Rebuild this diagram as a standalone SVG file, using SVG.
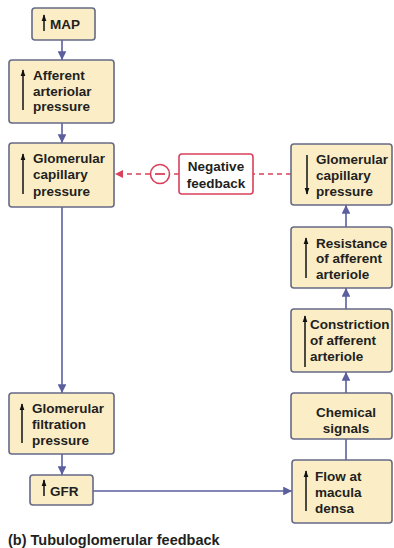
<svg xmlns="http://www.w3.org/2000/svg" width="394" height="548" viewBox="0 0 394 548">
<style>
.box{fill:#fbeec7;stroke:#656a86;stroke-width:1.6}
.t{font-family:"Liberation Sans",Arial,sans-serif;font-weight:bold;font-size:13.5px;fill:#231f20}
.c{text-anchor:middle}
.conn{stroke:#5b5f9e;stroke-width:1.6;fill:none}
.dash{stroke:#d9405a;stroke-width:1.5;stroke-dasharray:5,4;fill:none}
.ia{stroke:#111;stroke-width:1.5;fill:none}
</style>
<defs>
<marker id="ah" viewBox="0 0 10 10" refX="10" refY="5" markerWidth="5.5" markerHeight="5.5" orient="auto" markerUnits="strokeWidth"><path d="M0,0 L10,5 L0,10 z" fill="#5b5f9e"/></marker>
<marker id="rh" viewBox="0 0 10 10" refX="10" refY="5" markerWidth="5.5" markerHeight="5.5" orient="auto" markerUnits="strokeWidth"><path d="M0,0 L10,5 L0,10 z" fill="#d9405a"/></marker>
<marker id="bh" viewBox="0 0 10 10" refX="9" refY="5" markerWidth="4.5" markerHeight="4.5" orient="auto" markerUnits="strokeWidth"><path d="M0,1.5 L10,5 L0,8.5 z" fill="#111"/></marker>
</defs>

<g id="connectors">
<line class="conn" x1="62" y1="40" x2="62" y2="60" marker-end="url(#ah)"/>
<line class="conn" x1="62" y1="123" x2="62" y2="143" marker-end="url(#ah)"/>
<line class="conn" x1="62" y1="207" x2="62" y2="393" marker-end="url(#ah)"/>
<line class="conn" x1="62" y1="454" x2="62" y2="475" marker-end="url(#ah)"/>
<line class="conn" x1="93" y1="491" x2="292" y2="491" marker-end="url(#ah)"/>
<line class="conn" x1="346" y1="460" x2="346" y2="439"/>
<line class="conn" x1="346" y1="393" x2="346" y2="372" marker-end="url(#ah)"/>
<line class="conn" x1="346" y1="309" x2="346" y2="288" marker-end="url(#ah)"/>
<line class="conn" x1="346" y1="227" x2="346" y2="205" marker-end="url(#ah)"/>
<line class="dash" x1="291" y1="174" x2="253" y2="174"/>
<line class="dash" x1="179" y1="174" x2="170" y2="174"/>
<line class="dash" x1="150" y1="174" x2="115" y2="174" marker-end="url(#rh)"/>
<circle cx="160" cy="174" r="9.5" fill="#fff" stroke="#d9405a" stroke-width="1.6"/>
<line x1="155" y1="174" x2="165" y2="174" stroke="#d9405a" stroke-width="1.8"/>
</g>

<g id="map">
<rect class="box" x="32" y="8" width="63" height="32" rx="3"/>
<line class="ia" x1="44" y1="31" x2="44" y2="15" marker-end="url(#bh)"/>
<text class="t" x="50" y="29">MAP</text>
</g>

<g id="afferent">
<rect class="box" x="9" y="60" width="105" height="63" rx="3"/>
<line class="ia" x1="23" y1="110" x2="23" y2="70" marker-end="url(#bh)"/>
<text class="t" x="33" y="80">Afferent</text>
<text class="t" x="33" y="96">arteriolar</text>
<text class="t" x="33" y="111">pressure</text>
</g>

<g id="glom-cap-left">
<rect class="box" x="9" y="143" width="105" height="64" rx="3"/>
<line class="ia" x1="23" y1="194" x2="23" y2="154" marker-end="url(#bh)"/>
<text class="t" x="33" y="163">Glomerular</text>
<text class="t" x="33" y="179">capillary</text>
<text class="t" x="33" y="196">pressure</text>
</g>

<g id="neg-feedback">
<rect x="179" y="154" width="74" height="40" rx="3" fill="#fff" stroke="#d9405a" stroke-width="1.6"/>
<text class="t c" x="216" y="171">Negative</text>
<text class="t c" x="216" y="188">feedback</text>
</g>

<g id="glom-cap-right">
<rect class="box" x="291" y="144" width="101" height="61" rx="3"/>
<line class="ia" x1="307" y1="155" x2="307" y2="194" marker-end="url(#bh)"/>
<text class="t" x="316" y="164">Glomerular</text>
<text class="t" x="316" y="180">capillary</text>
<text class="t" x="316" y="196">pressure</text>
</g>

<g id="resistance">
<rect class="box" x="291" y="227" width="101" height="61" rx="3"/>
<line class="ia" x1="306" y1="278" x2="306" y2="238" marker-end="url(#bh)"/>
<text class="t" x="316" y="248">Resistance</text>
<text class="t" x="316" y="263">of afferent</text>
<text class="t" x="316" y="279">arteriole</text>
</g>

<g id="constriction">
<rect class="box" x="291" y="309" width="101" height="63" rx="3"/>
<line class="ia" x1="305" y1="367" x2="305" y2="316" marker-end="url(#bh)"/>
<text class="t" x="310" y="329">Constriction</text>
<text class="t" x="310" y="345">of afferent</text>
<text class="t" x="310" y="361">arteriole</text>
</g>

<g id="chemical">
<rect class="box" x="291" y="393" width="101" height="46" rx="3"/>
<text class="t c" x="346" y="417">Chemical</text>
<text class="t c" x="346" y="433">signals</text>
</g>

<g id="flow">
<rect class="box" x="292" y="460" width="100" height="63" rx="3"/>
<line class="ia" x1="306" y1="511" x2="306" y2="471" marker-end="url(#bh)"/>
<text class="t" x="315" y="481">Flow at</text>
<text class="t" x="315" y="497">macula</text>
<text class="t" x="315" y="513">densa</text>
</g>

<g id="filtration">
<rect class="box" x="9" y="393" width="105" height="61" rx="3"/>
<line class="ia" x1="22" y1="443" x2="22" y2="404" marker-end="url(#bh)"/>
<text class="t" x="32" y="413">Glomerular</text>
<text class="t" x="32" y="429">filtration</text>
<text class="t" x="32" y="445">pressure</text>
</g>

<g id="gfr">
<rect class="box" x="30" y="475" width="63" height="30" rx="3"/>
<line class="ia" x1="44" y1="496" x2="44" y2="480" marker-end="url(#bh)"/>
<text class="t" x="50" y="496">GFR</text>
</g>

<text class="t" x="8" y="545" style="font-size:14.5px">(b)  Tubuloglomerular feedback</text>
</svg>
